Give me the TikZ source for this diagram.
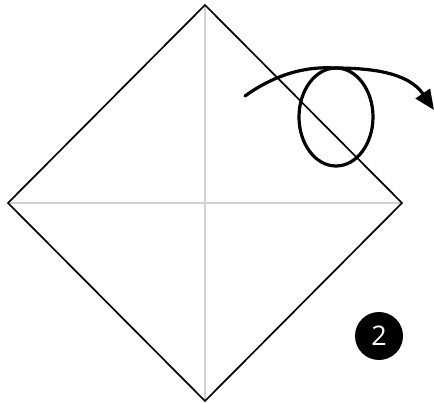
\documentclass[tikz,border=0pt]{standalone}
\usepackage{fontspec}
\setmainfont{Open Sans}
\usetikzlibrary{arrows.meta}
\begin{document}
\begin{tikzpicture}[x=1pt,y=-1pt,
  crease/.style={draw=black!18, line width=1.2pt},
  edge/.style={draw=black, line width=1.7pt, line join=miter},
  movearrow/.style={draw=black, line width=3.2pt, line cap=round},
  stepnum/.style={circle, fill=black, text=white, minimum size=48pt, inner sep=0pt, font=\fontsize{27}{27}\selectfont}]
\useasboundingbox (0,0) rectangle (434,403);
\coordinate (T) at (205,5);
\coordinate (L) at (8,203);
\coordinate (R) at (402,203);
\coordinate (B) at (205,401);
\draw[crease] (T) -- (B);
\draw[crease] (L) -- (R);
\draw[edge] (T) -- (R) -- (B) -- (L) -- cycle;
\coordinate (s) at (245,96);
\coordinate (top) at (334,68);
\coordinate (tip) at (434,110);
\draw[movearrow] (s) .. controls (270,78) and (300,66) .. (top);
\draw[movearrow] (336,117) ellipse [x radius=37, y radius=49];
\draw[movearrow, -{Triangle[length=20pt,width=17pt]}] (top) .. controls (370,68) and (408,72) .. (tip);
\node[stepnum] (n2) at (379,336) {2};
\end{tikzpicture}
\end{document}
